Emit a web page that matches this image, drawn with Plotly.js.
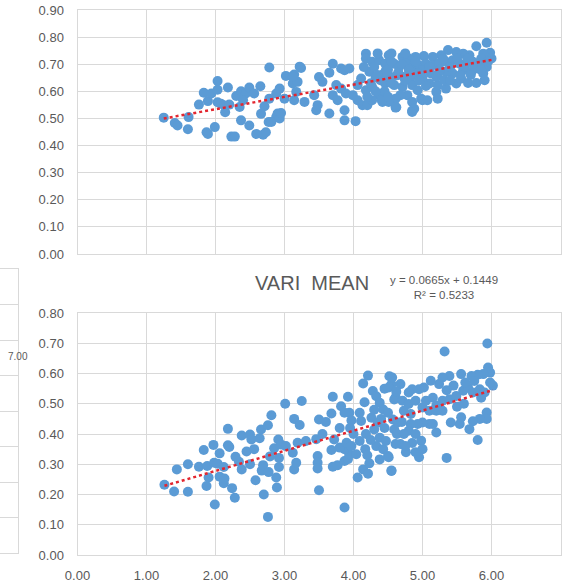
<!DOCTYPE html>
<html>
<head>
<meta charset="utf-8">
<script src="https://cdn.plot.ly/plotly-3.0.1.min.js"></script>
<style>html,body{margin:0;padding:0;background:#fff;}#chart{width:571px;height:582px;}</style>
</head>
<body>
<div id="chart"></div>
<script>
// ---- Top chart (cropped, untitled) ----
const topX = [1.25,1.41,1.45,1.60,1.61,1.76,1.83,1.87,1.89,1.89,1.94,1.99,2.03,2.03,2.03,2.08,2.13,2.14,2.18,2.20,2.23,2.28,2.30,2.37,2.37,2.44,2.49,2.49,2.56,2.59,2.65,2.69,2.71,2.73,2.78,2.77,2.66,2.35,2.40,
2.93,2.88,2.78,2.90,2.88,2.81,2.93,2.95,3.02,3.14,3.24,3.12,3.19,3.17,3.00,3.14,3.29,3.43,3.50,3.55,3.65,3.70,3.82,3.87,3.94,3.75,3.82,3.89,3.70,3.77,3.48,3.46,3.65,3.87,3.87,4.03,3.99,4.06,4.13,4.20,4.18,4.18,4.27,4.37,4.23,4.32,4.42,4.11,4.06,4.18,4.27,4.37,4.27,4.42,4.47,3.12,3.22,4.62,4.85,
5.93,5.78,5.98,6.00,5.88,5.68,5.59,5.49,5.37,5.27,5.15,5.02,4.90,4.80,4.71,4.51,4.46,4.59,4.66,4.76,4.85,4.95,5.05,5.15,5.24,5.34,5.44,5.54,5.63,5.73,5.83,5.93,5.88,5.80,5.71,5.59,5.44,5.34,5.22,5.12,5.00,4.93,4.83,4.73,4.63,4.54,4.44,4.39,4.46,4.59,4.71,4.85,4.93,4.78,4.68,4.61,4.51,4.41,4.61,4.85,4.98,4.88,4.85,5.00,5.07,5.20,5.22,5.34,5.49,5.56,5.66,5.78,5.90,5.10,5.20,5.32,5.22,
4.30,4.35,4.50,4.55,4.65,4.70,4.80,4.90,5.00,5.10,5.25,5.30,5.40,5.50,5.60,5.65,5.75,5.85,5.95,4.25,4.45,4.55,4.75,4.95,5.05,5.40,5.55,5.70,5.85,4.15,4.35,4.55,4.75,4.20,4.32,4.50];
const topY = [0.503,0.483,0.474,0.460,0.505,0.551,0.595,0.449,0.443,0.564,0.592,0.468,0.638,0.606,0.560,0.554,0.548,0.523,0.614,0.551,0.433,0.433,0.583,0.493,0.600,0.592,0.614,0.474,0.592,0.443,0.619,0.440,0.545,0.449,0.688,0.487,0.517,0.542,0.567,
0.610,0.592,0.573,0.518,0.505,0.487,0.500,0.520,0.657,0.662,0.686,0.629,0.635,0.598,0.573,0.567,0.561,0.586,0.653,0.635,0.669,0.702,0.684,0.678,0.684,0.623,0.610,0.592,0.586,0.567,0.549,0.530,0.518,0.530,0.493,0.490,0.586,0.567,0.549,0.549,0.739,0.721,0.709,0.715,0.672,0.653,0.647,0.647,0.623,0.604,0.616,0.586,0.567,0.561,0.678,0.654,0.691,0.541,0.528,
0.779,0.766,0.742,0.721,0.739,0.733,0.739,0.745,0.752,0.733,0.727,0.730,0.727,0.721,0.727,0.733,0.702,0.702,0.690,0.702,0.690,0.696,0.702,0.696,0.702,0.709,0.715,0.702,0.702,0.709,0.702,0.690,0.666,0.684,0.672,0.678,0.666,0.672,0.659,0.666,0.678,0.666,0.653,0.653,0.659,0.653,0.666,0.641,0.629,0.623,0.616,0.623,0.604,0.586,0.586,0.573,0.561,0.567,0.540,0.561,0.573,0.536,0.524,0.567,0.567,0.598,0.623,0.610,0.629,0.647,0.631,0.631,0.641,0.629,0.653,0.641,0.573,
0.690,0.660,0.680,0.710,0.670,0.700,0.680,0.710,0.650,0.690,0.680,0.720,0.690,0.720,0.690,0.720,0.690,0.720,0.710,0.630,0.600,0.630,0.640,0.640,0.620,0.640,0.660,0.660,0.680,0.690,0.740,0.740,0.740,0.580,0.600,0.580];
const topTrend = [0.0455, 0.443]; // slope, intercept

// ---- Bottom chart: VARI MEAN ----
const varX = [1.26,1.44,1.40,1.60,1.60,1.76,1.83,1.88,1.90,1.87,1.97,1.98,1.99,2.03,2.06,2.06,2.12,2.12,2.13,2.18,2.18,2.20,2.24,2.29,2.28,2.34,2.38,2.38,2.45,2.50,2.50,2.52,2.56,2.58,2.64,2.66,2.67,2.69,2.70,2.76,2.76,2.77,2.79,2.81,2.85,2.88,2.89,2.91,2.92,2.92,2.95,3.01,3.02,
3.25,3.14,3.22,3.12,3.19,3.31,3.46,3.50,3.60,3.55,3.48,3.48,3.48,3.50,3.14,3.17,3.68,3.70,3.92,3.82,3.94,3.87,3.97,3.80,3.72,3.68,3.70,3.77,3.87,3.92,3.94,3.87,3.80,3.90,3.97,4.04,4.09,4.11,4.09,4.16,4.14,4.21,4.06,4.14,4.21,4.23,4.17,4.18,4.26,4.28,4.33,4.38,4.43,4.35,4.30,4.38,4.33,4.43,4.47,4.50,4.38,4.55,4.52,4.55,3.87,4.59,4.57,4.59,
5.94,5.32,5.95,5.98,6.02,5.88,5.80,5.71,5.56,5.39,5.29,5.24,5.12,5.02,4.95,4.85,4.80,4.68,4.56,4.51,4.61,4.71,4.80,4.90,5.00,5.10,5.20,5.29,5.39,5.49,5.59,5.66,5.73,5.83,5.90,5.98,5.93,5.93,5.83,5.73,5.68,5.56,5.54,5.41,5.29,5.20,5.10,5.00,4.93,4.83,4.80,4.90,4.98,5.00,4.95,4.90,4.76,4.68,4.61,4.63,4.73,5.20,5.15,5.80,5.35,4.55,4.51,4.64,4.73,4.83,
5.45,5.62,5.75,5.85,5.50,5.60,5.35,5.15,5.05,4.40,4.45,4.25,4.20,4.00,3.95,4.30,4.50,4.45,4.62,4.70,4.85,4.75];
const varY = [0.232,0.283,0.210,0.300,0.209,0.292,0.347,0.294,0.256,0.228,0.364,0.305,0.167,0.302,0.336,0.259,0.291,0.237,0.253,0.417,0.363,0.357,0.221,0.325,0.189,0.308,0.283,0.395,0.342,0.398,0.300,0.382,0.350,0.247,0.386,0.415,0.279,0.297,0.200,0.429,0.126,0.274,0.326,0.462,0.353,0.256,0.223,0.382,0.321,0.291,0.365,0.500,0.360,
0.509,0.450,0.430,0.338,0.371,0.377,0.383,0.448,0.440,0.400,0.327,0.305,0.286,0.214,0.283,0.305,0.468,0.523,0.523,0.492,0.470,0.470,0.445,0.420,0.382,0.347,0.292,0.297,0.311,0.317,0.333,0.350,0.355,0.371,0.360,0.333,0.377,0.443,0.470,0.505,0.567,0.593,0.256,0.283,0.269,0.303,0.350,0.400,0.454,0.542,0.525,0.503,0.481,0.437,0.415,0.388,0.360,0.350,0.377,0.327,0.316,0.278,0.591,0.564,0.157,0.514,0.448,0.415,
0.699,0.673,0.620,0.603,0.560,0.598,0.596,0.592,0.598,0.592,0.587,0.565,0.576,0.554,0.548,0.548,0.537,0.565,0.587,0.554,0.521,0.510,0.499,0.510,0.488,0.477,0.493,0.510,0.515,0.526,0.543,0.554,0.537,0.548,0.537,0.570,0.471,0.450,0.450,0.442,0.416,0.455,0.433,0.438,0.477,0.477,0.433,0.438,0.433,0.433,0.411,0.400,0.378,0.350,0.323,0.340,0.340,0.367,0.367,0.400,0.400,0.405,0.433,0.380,0.321,0.279,0.323,0.438,0.477,0.466,
0.560,0.570,0.575,0.520,0.490,0.500,0.545,0.520,0.510,0.450,0.420,0.380,0.330,0.400,0.420,0.480,0.470,0.550,0.540,0.440,0.370,0.360];
const varTrend = [0.0665, 0.1449]; // y = 0.0665x + 0.1449
const varR2 = 0.5233;
const chartTitle = 'VARI\u00a0\u00a0MEAN';

function trendLine(xs, coef) {
  const lo = Math.min(...xs), hi = Math.max(...xs);
  return {x: [lo, hi], y: [coef[0]*lo + coef[1], coef[0]*hi + coef[1]]};
}

const dotColor = '#5b9bd5';
const lineRed = '#e3262f';
const tTop = trendLine(topX, topTrend);
const tVar = trendLine(varX, varTrend);

const traces = [
  {type:'scatter', mode:'markers', x: topX, y: topY, xaxis:'x', yaxis:'y',
   marker:{color: dotColor, size: 10}, hoverinfo:'skip'},
  {type:'scatter', mode:'lines', x: tTop.x, y: tTop.y, xaxis:'x', yaxis:'y',
   line:{color: lineRed, width: 2.5, dash:'dot'}, hoverinfo:'skip'},
  {type:'scatter', mode:'markers', x: varX, y: varY, xaxis:'x2', yaxis:'y2',
   marker:{color: dotColor, size: 10}, hoverinfo:'skip'},
  {type:'scatter', mode:'lines', x: tVar.x, y: tVar.y, xaxis:'x2', yaxis:'y2',
   line:{color: lineRed, width: 2.5, dash:'dot'}, hoverinfo:'skip'},
  {type:'scatter', mode:'markers', x: [], y: [], xaxis:'x3', yaxis:'y3', hoverinfo:'skip'}
];

const W = 571, H = 582;
const px = v => v / W;
const py = v => 1 - v / H;
const grid = '#d9d9d9';
const tickFont = {family:'Liberation Sans, Arial, sans-serif', size: 13, color:'#595959'};
const dom = [px(77.5), px(560.5)];

const layout = {
  width: W, height: H,
  margin: {l:0, r:0, t:0, b:0, pad:0},
  paper_bgcolor:'#ffffff', plot_bgcolor:'#ffffff',
  showlegend:false,
  font: tickFont,
  xaxis: {domain: dom, anchor:'y', range:[0,7], dtick:1, showticklabels:false,
          showgrid:true, gridcolor:grid, gridwidth:1, zeroline:false,
          showline:true, linecolor:grid, mirror:true, ticks:'', fixedrange:true},
  yaxis: {domain: [py(254), py(10)], anchor:'x', range:[0,0.9], dtick:0.1, tickformat:'.2f',
          showgrid:true, gridcolor:grid, gridwidth:1, zeroline:false,
          showline:true, linecolor:grid, mirror:true, ticks:'', ticklabelstandoff:10,
          tickfont: tickFont, fixedrange:true},
  xaxis2: {domain: dom, anchor:'y2', range:[0,7], dtick:1, tickformat:'.2f',
           showgrid:true, gridcolor:grid, gridwidth:1, zeroline:false,
           showline:true, linecolor:grid, mirror:true, ticks:'', ticklabelstandoff:8,
           tickfont: tickFont, fixedrange:true},
  yaxis2: {domain: [py(555), py(313)], anchor:'x2', range:[0,0.8], dtick:0.1, tickformat:'.2f',
           showgrid:true, gridcolor:grid, gridwidth:1, zeroline:false,
           showline:true, linecolor:grid, mirror:true, ticks:'', ticklabelstandoff:10,
           tickfont: tickFont, fixedrange:true},
  xaxis3: {domain: [0, px(18)], anchor:'y3', range:[0,1], showgrid:false, showticklabels:false,
           zeroline:false, showline:true, linecolor:grid, mirror:true, ticks:'', fixedrange:true},
  yaxis3: {domain: [py(553), py(269)], anchor:'x3', range:[0,8], dtick:1, showticklabels:false,
           showgrid:true, gridcolor:grid, gridwidth:1, zeroline:false, side:'right',
           showline:true, linecolor:grid, ticks:'', fixedrange:true},
  annotations: [
    {xref:'paper', yref:'paper', x: px(312), y: py(283), xanchor:'center', yanchor:'middle',
     text: chartTitle, showarrow:false,
     font:{family:'Liberation Sans, Arial, sans-serif', size:20, color:'#595959'}},
    {xref:'paper', yref:'paper', x: px(444), y: py(287), xanchor:'center', yanchor:'middle',
     align:'center', showarrow:false,
     text: 'y = ' + varTrend[0].toFixed(4) + 'x + ' + varTrend[1].toFixed(4) + '<br>R² = ' + varR2.toFixed(4),
     font:{family:'Liberation Sans, Arial, sans-serif', size:11.5, color:'#595959'}},
    {xref:'paper', yref:'paper', x: px(18.5), y: py(356), xanchor:'center', yanchor:'middle',
     text:'7.00', showarrow:false,
     font:{family:'Liberation Sans, Arial, sans-serif', size:10, color:'#595959'}}
  ]
};

Plotly.newPlot('chart', traces, layout, {staticPlot:true, displayModeBar:false});
</script>
</body>
</html>
